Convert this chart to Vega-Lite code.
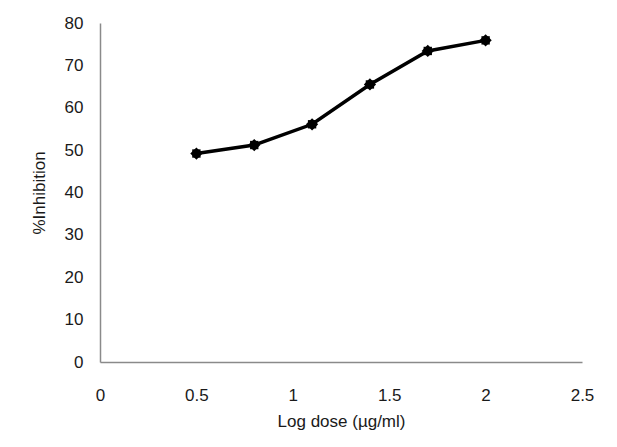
{
  "$schema": "https://vega.github.io/schema/vega-lite/v6.json",
  "width": 482,
  "height": 339,
  "autosize": {"type": "none"},
  "padding": {"left": 100, "top": 23, "right": 35, "bottom": 85},
  "background": "white",
  "config": {
    "view": {"stroke": null},
    "font": "Liberation Sans",
    "axis": {
      "grid": false,
      "ticks": false,
      "domainColor": "#8a8a8a",
      "domainWidth": 1.5,
      "labelFont": "Liberation Sans",
      "labelFontSize": 17,
      "labelColor": "#1a1a1a",
      "titleFont": "Liberation Sans",
      "titleFontSize": 17,
      "titleFontWeight": "normal",
      "titleColor": "#1a1a1a"
    }
  },
  "data": {
    "values": [
      {"logdose": 0.5, "inhibition": 49.2},
      {"logdose": 0.8, "inhibition": 51.2},
      {"logdose": 1.1, "inhibition": 56.1},
      {"logdose": 1.4, "inhibition": 65.5},
      {"logdose": 1.7, "inhibition": 73.4},
      {"logdose": 2.0, "inhibition": 75.9}
    ]
  },
  "encoding": {
    "x": {
      "field": "logdose",
      "type": "quantitative",
      "scale": {"domain": [0, 2.5], "nice": false, "zero": true},
      "axis": {
        "title": "Log dose (µg/ml)",
        "values": [0, 0.5, 1, 1.5, 2, 2.5],
        "format": "~g",
        "labelPadding": 25,
        "titlePadding": 10,
        "labelFlush": false
      }
    },
    "y": {
      "field": "inhibition",
      "type": "quantitative",
      "scale": {"domain": [0, 80], "nice": false},
      "axis": {
        "title": "%Inhibition",
        "values": [0, 10, 20, 30, 40, 50, 60, 70, 80],
        "labelPadding": 17,
        "titlePadding": 16,
        "labelFlush": false
      }
    }
  },
  "layer": [
    {"mark": {"type": "line", "color": "black", "strokeWidth": 3.5}},
    {"mark": {"type": "point", "shape": "diamond", "filled": true, "color": "black", "size": 150, "opacity": 1}},
    {"mark": {"type": "point", "shape": "square", "filled": true, "color": "black", "size": 70, "opacity": 1}}
  ]
}
